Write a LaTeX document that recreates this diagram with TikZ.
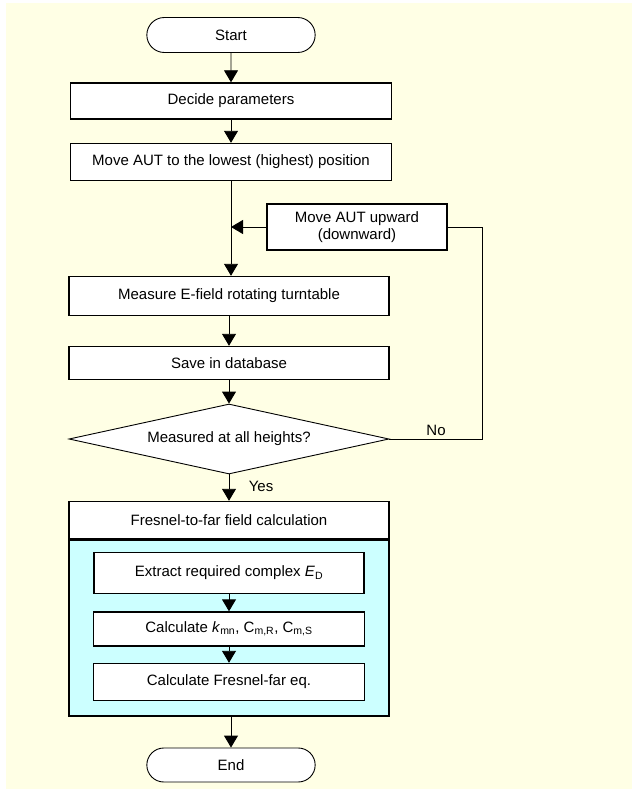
\documentclass[tikz,border=0pt]{standalone}
\usepackage{fontspec}
\setmainfont{Liberation Sans}
\usetikzlibrary{shapes.geometric, shapes.misc, arrows.meta, positioning, calc}

\definecolor{bgyellow}{RGB}{255,255,229}
\definecolor{calccyan}{RGB}{204,255,255}

\begin{document}
\begin{tikzpicture}[
    x=1pt, y=-1pt,
    every node/.style={font=\fontsize{15}{17.5}\selectfont},
    block/.style={rectangle, draw, line width=1.4pt, fill=white, minimum width=321pt, align=center, inner sep=2pt},
    subblock/.style={rectangle, draw, line width=1.4pt, fill=white, minimum width=271pt, align=center, inner sep=2pt},
    term/.style={rounded rectangle, draw, line width=0.9pt, fill=white, minimum width=175pt, minimum height=35pt},
    decision/.style={diamond, draw, line width=0.9pt, fill=white, aspect=4.6, minimum width=320pt, minimum height=70pt, inner sep=0pt},
    arrow/.style={-{Triangle[length=12pt,width=14pt]}, line width=0.9pt},
    line/.style={line width=0.9pt},
    lbl/.style={font=\fontsize{15}{17.5}\selectfont}
  ]

  \useasboundingbox (0,0) rectangle (632,789);
  \fill[bgyellow] (6,3) rectangle (632,789);

  % ---- Measurement loop ----
  \node[term] (start) at (231,35) {Start};
  \node[block, minimum height=36pt] (decide) at (231,101) {Decide parameters};
  \node[block, minimum height=37pt] (lowest) at (231,162) {Move AUT to the lowest (highest) position};
  \node[block, minimum width=180pt, minimum height=46pt] (upward) at (357,227) {Move AUT upward\\(downward)};
  \node[block, minimum width=320pt, minimum height=39pt] (measure) at (229,296) {Measure E-field rotating turntable};
  \node[block, minimum width=320pt, minimum height=33pt] (save) at (229,363) {Save in database};
  \node[decision] (check) at (229,439) {Measured at all heights?};

  \draw[arrow] (start) -- (decide);
  \draw[arrow] (decide) -- (lowest);
  \draw[arrow] (lowest.south) -- (lowest.south |- measure.north);
  \draw[arrow] (upward.west) -- (upward.west -| lowest.south);
  \draw[arrow] (measure) -- (save);
  \draw[arrow] (save.south) -- (save.south |- check.north);
  \draw[line] (check.east) -| node[pos=0.25, above, lbl] {No} ([xshift=35pt]upward.east) -- (upward.east);

  % ---- Fresnel-to-far field ----
  \node[block, minimum width=320pt, minimum height=37pt] (fresnel) at (229,520) {Fresnel-to-far field calculation};
  \node[rectangle, draw, line width=1.4pt, fill=calccyan, minimum width=320pt, minimum height=176pt, below=0pt of fresnel] (fresnelbody) {};
  \node[subblock, minimum width=270pt, minimum height=41pt] (extract) at (229,573) {Extract required complex \textit{E}\textsubscript{D}};
  \node[subblock, minimum height=34pt] (kmn) at (229,629) {Calculate \textit{k}\textsubscript{mn}, C\textsubscript{m,R}, C\textsubscript{m,S}};
  \node[subblock, minimum height=37pt] (fareq) at (229,682) {Calculate Fresnel-far eq.};

  \draw[arrow] (check.south) -- node[pos=0.45, right=16pt, lbl] {Yes} (check.south |- fresnel.north);
  \draw[arrow] (extract) -- (kmn);
  \draw[arrow] (kmn) -- (fareq);

  \node[term, minimum height=34pt] (end) at (231,765) {End};
  \draw[arrow] (fresnelbody.south -| end.north) -- (end.north);
\end{tikzpicture}
\end{document}
